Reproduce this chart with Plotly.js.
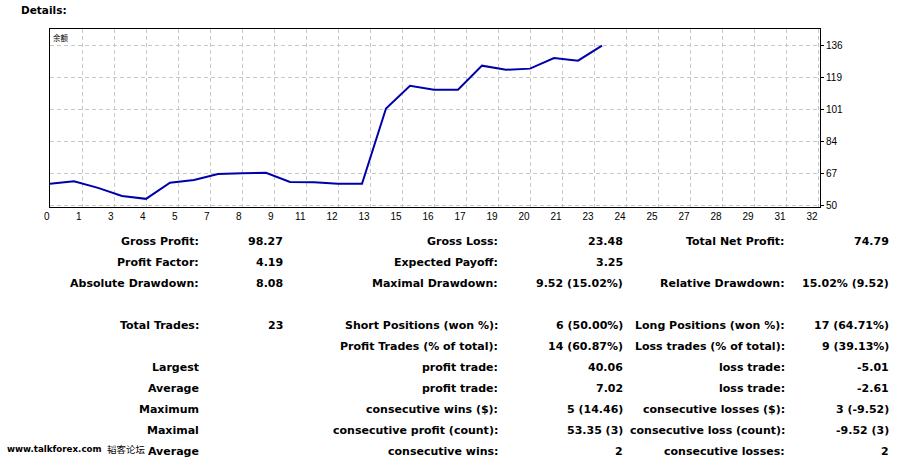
<!DOCTYPE html>
<html>
<head>
<meta charset="utf-8">
<script src="https://cdn.plot.ly/plotly-3.0.1.min.js"></script>
<style>
  html, body { margin: 0; padding: 0; background: #fff; }
  #chart { width: 924px; height: 459px; }
</style>
</head>
<body>
<div id="chart"></div>
<script>
// ---------- data ----------
const tradeNo = [0, 1, 2, 3, 4, 5, 6, 7, 8, 9, 10, 11, 12, 13, 14, 15, 16, 17, 18, 19, 20, 21, 22, 23];
const balance = [61.4, 62.7, 59.2, 54.8, 53.3, 62.0, 63.4, 66.7, 67.0, 67.3, 62.4, 62.2, 61.4, 61.4,
                 101.9, 114.1, 112.0, 112.0, 124.9, 122.7, 123.3, 129.0, 127.6, 135.7];
const seriesName = "余额";
const xTickLabels = ["0","1","3","4","5","7","8","9","11","12","13","15","16","17","19","20","21","23","24","25","27","28","29","31","32"];
const yTickLabels = ["50","67","84","101","119","136"];

const col1Labels = ["Gross Profit:", "Profit Factor:", "Absolute Drawdown:", "", "Total Trades:", "", "Largest", "Average", "Maximum", "Maximal", "Average"];
const col1Values = ["98.27", "4.19", "8.08", "", "23", "", "", "", "", "", ""];
const col2Labels = ["Gross Loss:", "Expected Payoff:", "Maximal Drawdown:", "", "Short Positions (won %):", "Profit Trades (% of total):", "profit trade:", "profit trade:", "consecutive wins ($):", "consecutive profit (count):", "consecutive wins:"];
const col2Values = ["23.48", "3.25", "9.52 (15.02%)", "", "6 (50.00%)", "14 (60.87%)", "40.06", "7.02", "5 (14.46)", "53.35 (3)", "2"];
const col3Labels = ["Total Net Profit:", "", "Relative Drawdown:", "", "Long Positions (won %):", "Loss trades (% of total):", "loss trade:", "loss trade:", "consecutive losses ($):", "consecutive loss (count):", "consecutive losses:"];
const col3Values = ["74.79", "", "15.02% (9.52)", "", "17 (64.71%)", "9 (39.13%)", "-5.01", "-2.61", "3 (-9.52)", "-9.52 (3)", "2"];

const pageTitle = "Details:";
const watermarkLatin = "www.talkforex.com";
const watermarkCJK = "韬客论坛";

// ---------- layout geometry ----------
const W = 924, H = 459;
const plotL = 50, plotR = 820, plotT = 29, plotB = 207;
const pxX = X => (X - plotL) / (plotR - plotL);
const pxY = Y => (plotB - Y) / (plotB - plotT);

const xStep = 4 / 3;                 // trades per tick interval
const xPxPerUnit = 24;
const xRange = [0, (plotR - plotL) / xPxPerUnit];
const xTickVals = xTickLabels.map((_, k) => k * xStep);

const yStep = 17.2;
const yTickVals = yTickLabels.map((_, k) => 50 + k * yStep);
const yPxPerUnit = 160 / 86;          // pixels per balance unit
const y50px = 205;
const yRange = [50 - (plotB - y50px) / yPxPerUnit, 50 + (y50px - plotT) / yPxPerUnit];

const tableFont = { family: "DejaVu Sans", size: 11, color: "#000" };
const tableFontBold = Object.assign({}, tableFont, { weight: "bold" });
const colRight = [200, 284, 499, 624, 786, 890];
const rowY0 = 241, rowStep = 21;

const annotations = [];
function addText(text, X, Y, anchor, font) {
  if (!text) return;
  annotations.push({
    text: text, xref: "paper", yref: "paper",
    x: pxX(X), y: pxY(Y), xanchor: anchor, yanchor: "middle",
    showarrow: false, font: font, borderpad: 0
  });
}
const cols = [col1Labels, col1Values, col2Labels, col2Values, col3Labels, col3Values];
cols.forEach((col, c) => {
  col.forEach((t, r) => addText(t, colRight[c], rowY0 + r * rowStep, "right", tableFontBold));
});

addText(pageTitle, 20, 10.5, "left", { family: "DejaVu Sans", size: 10.5, color: "#000", weight: "bold" });
addText(seriesName, 52, 37, "left", { family: "Noto Sans CJK SC", size: 7.5, color: "#000" });
addText(watermarkLatin, 6, 449, "left", { family: "DejaVu Sans", size: 8.7, color: "#000", weight: "bold" });
addText(watermarkCJK, 106, 449, "left", { family: "Noto Sans CJK SC", size: 9.5, color: "#000" });

const trace = {
  x: tradeNo, y: balance, type: "scatter", mode: "lines",
  line: { color: "#0000aa", width: 2 },
  hoverinfo: "skip", name: seriesName
};

const tickFont = { family: "Liberation Sans", size: 10, color: "#000" };

const layout = {
  width: W, height: H,
  paper_bgcolor: "#ffffff", plot_bgcolor: "#ffffff",
  margin: { l: plotL, r: W - plotR, t: plotT, b: H - plotB, pad: 0 },
  showlegend: false,
  xaxis: {
    range: xRange, tickmode: "array", tickvals: xTickVals, ticktext: xTickLabels,
    showgrid: true, gridcolor: "#c8c8c8", gridwidth: 1, griddash: "4px,3px",
    showline: true, linecolor: "#000", linewidth: 1, mirror: true,
    ticks: "", zeroline: false, tickfont: tickFont, tickangle: 0, fixedrange: true,
    ticklabelposition: "outside left"
  },
  yaxis: {
    side: "right", range: yRange, tickmode: "array", tickvals: yTickVals, ticktext: yTickLabels,
    showgrid: true, gridcolor: "#c8c8c8", gridwidth: 1, griddash: "4px,3px",
    showline: true, linecolor: "#000", linewidth: 1, mirror: true,
    ticks: "outside", ticklen: 3, tickcolor: "#000", tickwidth: 1,
    zeroline: false, tickfont: tickFont, fixedrange: true
  },
  annotations: annotations
};

Plotly.newPlot("chart", [trace], layout, { staticPlot: true, displayModeBar: false });
</script>
</body>
</html>
